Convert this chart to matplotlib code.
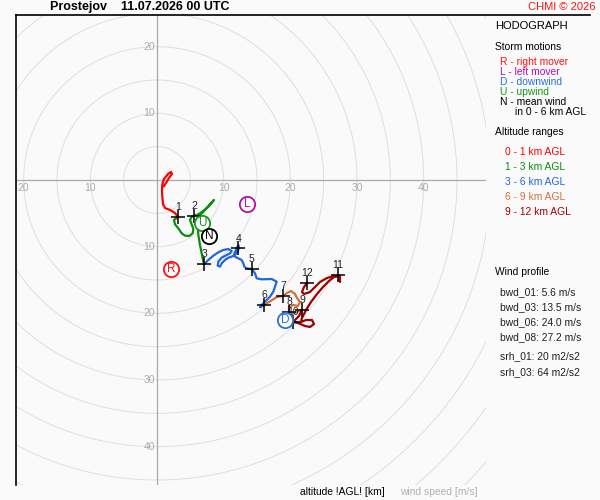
import numpy as np
import matplotlib
matplotlib.use("Agg")
import matplotlib.pyplot as plt
from matplotlib.lines import Line2D

plt.rcParams['font.family'] = ['Liberation Sans', 'DejaVu Sans']

# hodograph trace [m/s], one pair of arrays per altitude range
u_0_1 = [1.05, 1.35, 1.8, 2.25, 2.1, 1.65, 1.05, 0.8, 0.75, 0.8, 0.9, 1.2, 1.95, 2.7, 3.15]
v_0_1 = [-0.9, -0.45, 0.3, 0.9, 1.2, 0.9, 0.15, -0.6, -1.5, -2.55, -3.6, -4.2, -4.5, -4.95, -5.55]

u_1_3 = [2.55, 2.7, 3.2, 3.7, 4.2, 4.85, 5.35, 5.45, 5.2, 4.95, 5.2, 5.6, 6.2, 6.95, 7.7,
         8.55, 7.95, 7.2, 6.45, 5.95, 6.1, 6.2, 6.45, 6.7, 6.95, 7.1]
v_1_3 = [-6.0, -6.65, -7.25, -8.0, -8.35, -8.4, -8.0, -7.35, -6.65, -6.0, -5.5, -5.35, -5.15, -4.65, -4.0,
         -3.0, -3.65, -4.5, -5.25, -6.0, -7.0, -8.25, -9.75, -11.0, -12.25, -12.6]

u_3_6 = [7.7, 8.45, 9.2, 9.95, 10.7, 11.2, 10.95, 10.45, 9.7, 9.2, 9.1, 9.45, 9.7, 10.2, 10.7,
         11.2, 11.7, 12.1, 12.3, 12.2, 11.95, 11.6, 11.7, 12.2, 12.7, 12.95, 13.1, 13.45, 14.2,
         14.7, 14.95, 15.7, 17.2, 17.95, 17.7, 17.45, 16.95, 16.2, 15.7, 15.45, 16.05]
v_3_6 = [-12.0, -11.35, -10.85, -10.5, -10.35, -10.65, -11.0, -11.25, -11.65, -12.25, -12.85, -13.0, -12.5, -12.0, -11.65,
         -11.5, -11.25, -10.75, -10.15, -9.75, -10.25, -11.0, -11.5, -11.75, -12.0, -12.5, -13.0, -13.25, -13.35,
         -14.0, -14.75, -14.9, -14.85, -15.25, -16.0, -16.75, -17.5, -18.25, -18.75, -19.1, -18.75]

u_6_9 = [17.25, 18.0, 18.9, 19.5, 20.1, 20.7, 21.0, 21.45, 21.15, 20.4, 19.8, 19.8, 20.55, 21.3, 21.75]
v_6_9 = [-18.0, -17.55, -17.4, -16.95, -16.65, -17.1, -17.7, -18.3, -18.9, -18.75, -19.05, -19.8, -19.95, -19.65, -19.5]

u_9_12 = [21.3, 20.7, 20.4, 21.15, 22.2, 22.95, 23.55, 23.25, 22.35, 21.6, 21.75, 22.35, 23.1, 24.0, 24.9,
          25.8, 26.55, 27.15, 27.45, 27.45, 27.3, 26.55, 25.5, 24.45, 23.7, 22.95, 22.05, 21.75, 22.05, 22.5]
v_9_12 = [-20.4, -21.0, -21.3, -21.45, -21.9, -22.05, -21.6, -21.0, -21.0, -21.3, -20.7, -19.5, -18.3, -17.1, -16.05,
          -15.15, -14.55, -14.25, -14.4, -15.3, -14.55, -14.4, -14.7, -15.3, -16.05, -16.8, -17.1, -16.8, -16.05, -15.45]

segments = [(u_0_1, v_0_1), (u_1_3, v_1_3), (u_3_6, v_3_6), (u_6_9, v_6_9), (u_9_12, v_9_12)]
seg_colors = ['#ff0000', '#108a10', '#2266dd', '#d2703c', '#a00000']

# altitude marks every km
km_labels = ['1', '2', '3', '4', '5', '6', '7', '8', '9', '10', '11', '12']
km_u = [3.15, 5.6, 7.1, 12.2, 14.2, 16.05, 18.9, 19.8, 21.75, 20.4, 27.15, 22.5]
km_v = [-5.55, -5.35, -12.6, -10.25, -13.35, -18.75, -17.4, -19.8, -19.5, -21.3, -14.25, -15.45]

# storm motions
sm_letters = ['R', 'L', 'D', 'U', 'N']
sm_u = [2.1, 13.5, 19.2, 6.75, 7.8]
sm_v = [-13.35, -3.6, -21.0, -6.45, -8.4]
sm_colors = ['#ff1010', '#b010b0', '#2870e0', '#159a15', '#000000']

tick_vals = [-20, -10, 10, 20, 30, 40]
ring_radii = np.arange(5, 75, 5)

storm_text = ['R - right mover', 'L - left mover', 'D - downwind', 'U - upwind', 'N - mean wind']
alt_text = ['0 - 1 km AGL', '1 - 3 km AGL', '3 - 6 km AGL', '6 - 9 km AGL', '9 - 12 km AGL']
profile_text = ['bwd_01: 5.6 m/s', 'bwd_03: 13.5 m/s', 'bwd_06: 24.0 m/s', 'bwd_08: 27.2 m/s',
                'srh_01: 20 m2/s2', 'srh_03: 64 m2/s2']
profile_y = [292, 307, 322, 337, 356, 372]

W, H = 600, 500
BG = '#fafafa'


def fx(x):
    return x / W


def fy(y):
    return 1 - y / H


fig = plt.figure(figsize=(6, 5), dpi=100, facecolor=BG)
ax = fig.add_axes([fx(16), fy(485), 470 / W, 470 / H])
ax.set_facecolor(BG)
ax.set_xlim(-21.15, 49.35)
ax.set_ylim(-45.75, 24.75)
for s in ['top', 'right', 'bottom']:
    ax.spines[s].set_visible(False)
ax.spines['left'].set_color('black')
ax.spines['left'].set_linewidth(1.2)
ax.set_xticks([])
ax.set_yticks([])

# speed rings and axes through the origin
t = np.linspace(0, 2 * np.pi, 400)
for r in ring_radii:
    ax.plot(r * np.cos(t), r * np.sin(t), color='#e0e0e0', lw=0.75, zorder=1)
ax.axhline(0, color='#aaaaaa', lw=0.9, zorder=2)
ax.axvline(0, color='#aaaaaa', lw=0.9, zorder=2)

for tv in tick_vals:
    ax.text(tv, -0.45, str(abs(tv)), color='#aaaaaa', fontsize=7.5, ha='center', va='top', zorder=3)
    ax.text(-0.3, -tv, str(abs(tv)), color='#aaaaaa', fontsize=7.5, ha='right', va='center', zorder=3)

prev = None
for (us, vs), c in zip(segments, seg_colors):
    uu = list(us)
    vv = list(vs)
    if prev is not None:
        uu = [prev[0]] + uu
        vv = [prev[1]] + vv
    ax.plot(uu, vv, color=c, lw=1.6, solid_joinstyle='round', zorder=4)
    prev = (uu[-1], vv[-1])

ax.plot(km_u, km_v, ls='none', marker='+', ms=10, mew=1.1, color='black', zorder=5)
for lab, u, v in zip(km_labels, km_u, km_v):
    ax.annotate(lab, (u, v), xytext=(0, 7), textcoords='offset points', ha='center', va='center',
                fontsize=7.5, color='#202020', zorder=6)

for lt, u, v, c in zip(sm_letters, sm_u, sm_v, sm_colors):
    ax.plot(u, v, marker='o', ms=11, mfc='white', mec=c, mew=1.3, zorder=7)
    ax.text(u, v, lt, color=c, fontsize=8.5, ha='center', va='center', zorder=8)

# frame line across the top
fig.add_artist(Line2D([fx(16), fx(590)], [fy(15), fy(15)], color='black', lw=1.2))

fig.text(fx(50), fy(7), 'Prostejov    11.07.2026 00 UTC', fontsize=9, fontweight='bold',
         ha='left', va='center')
fig.text(fx(595), fy(7), 'CHMI \u00a9 2026', fontsize=8, color='#ff1010', ha='right', va='center')

fs = 7.4
fig.text(fx(495), fy(26), 'HODOGRAPH', fontsize=8, ha='left', va='center')
fig.text(fx(495), fy(47), 'Storm motions', fontsize=fs, ha='left', va='center')
for i, (txt, c) in enumerate(zip(storm_text, sm_colors)):
    fig.text(fx(500), fy(61.7 + 10 * i), txt, fontsize=fs, color=c, ha='left', va='center')
fig.text(fx(515), fy(111.7), 'in 0 - 6 km AGL', fontsize=fs, ha='left', va='center')

fig.text(fx(495), fy(131.7), 'Altitude ranges', fontsize=fs, ha='left', va='center')
for i, (txt, c) in enumerate(zip(alt_text, seg_colors)):
    fig.text(fx(505), fy(151.7 + 15 * i), txt, fontsize=fs, color=c, ha='left', va='center')

fig.text(fx(495), fy(272), 'Wind profile', fontsize=fs, ha='left', va='center')
for txt, y in zip(profile_text, profile_y):
    fig.text(fx(500), fy(y), txt, fontsize=fs, color='#202020', ha='left', va='center')

fig.text(fx(300), fy(492), 'altitude !AGL! [km]', fontsize=fs, ha='left', va='center')
fig.text(fx(400), fy(492), 'wind speed [m/s]', fontsize=fs, color='#b0b0b0', ha='left', va='center')

fig.savefig('out.png', dpi=100, facecolor=BG)
